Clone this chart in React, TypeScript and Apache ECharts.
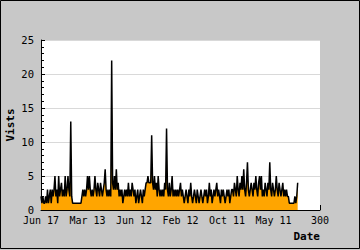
import React, { useEffect, useRef } from "react";
import * as echarts from "echarts";

const xTickLabels = ["Jun 17", "Mar 13", "Jun 12", "Feb 12", "Oct 11", "May 11", "300"];
const yTicks = [0, 5, 10, 15, 20, 25];

const visits = [
  2, 1, 2, 1, 1, 2, 1,
  3, 1, 2, 3, 1, 3, 2, 3, 5, 2, 3, 1,
  5, 2, 3, 4, 2, 3, 2, 5, 2, 3, 5, 3, 2,
  13,
  2, 1, 1, 1, 1, 1, 1, 1, 1, 1, 1, 2,
  3, 2, 3, 2, 3,
  5, 3, 5, 3, 2, 3, 2, 3,
  5, 3, 2, 4, 3, 2, 4, 3, 2, 3, 4,
  6, 3, 2, 3, 2, 3, 2,
  22, 4, 3, 5, 3, 6, 3, 4, 2,
  3, 2, 3, 1, 2, 3, 2, 3, 2,
  4, 2, 3, 2, 4, 3, 2, 3, 1,
  2, 3, 1, 2, 3, 2, 1, 3, 2, 3,
  4, 4, 5, 4, 4, 4,
  11, 4, 3, 5, 3, 4, 2, 5, 3, 2, 3, 2, 3,
  2, 4, 3, 12, 3, 2, 4, 2, 3, 5, 2, 3, 2, 3,
  2, 3, 2, 3, 4, 2, 3, 2, 1, 2, 3, 2, 1, 3, 2,
  4, 2, 1, 2, 3, 2, 1, 3, 2, 1,
  2, 3, 2, 1, 2, 3, 2, 3, 1, 2,
  4, 2, 3, 1, 2, 3, 2, 3, 4, 2,
  3, 2, 1, 3, 2, 3, 2, 1, 2, 3, 2, 3, 1, 2, 3,
  3, 2, 4, 3, 2, 5, 3, 2, 4, 3,
  5, 3, 6, 3, 2, 4, 7, 3, 2, 3,
  4, 3, 2, 4, 3, 5, 3, 2, 4,
  5, 3, 5, 2, 3, 2, 4, 3, 2,
  4, 3, 7, 3, 2, 4, 3, 2, 3,
  5, 3, 2, 4, 3, 2, 3, 4, 2,
  3, 2, 3,
  2, 2, 1, 1, 1, 1, 1, 1, 2,
  1, 2, 4,
];

const FONT = "DejaVu Sans Mono";

export default function App() {
  const ref = useRef<HTMLDivElement>(null);
  useEffect(() => {
    document.body.style.margin = "0";
    if (!ref.current) return;
    const chart = echarts.init(ref.current, null, { renderer: "svg" });
    chart.setOption({
      animation: false,
      backgroundColor: "#c8c8c8",
      graphic: [
        {
          type: "rect",
          shape: { x: 0.5, y: 0.5, width: 359, height: 248 },
          style: { fill: "none", stroke: "#000", lineWidth: 1 },
          silent: true,
          z: 100,
        },
      ],
      grid: {
        left: 41,
        top: 40,
        right: 40,
        bottom: 40,
        containLabel: false,
        outerBoundsMode: "none",
        show: true,
        backgroundColor: "#ffffff",
        borderWidth: 0,
      },
      xAxis: {
        type: "value",
        min: 0,
        max: 300,
        interval: 50,
        name: "Date",
        nameLocation: "end",
        nameGap: 0,
        nameMoveOverlap: false,
        nameTextStyle: {
          fontFamily: FONT,
          fontWeight: "bold",
          fontSize: 11,
          color: "#000",
          align: "right",
          verticalAlign: "top",
          padding: [21, 0, 0, 0],
        },
        axisLine: { show: true, onZero: false, lineStyle: { color: "#000", width: 1 } },
        axisTick: { show: true, inside: true, length: 5, lineStyle: { color: "#000" } },
        splitLine: { show: false },
        axisLabel: {
          fontFamily: FONT,
          fontSize: 10,
          color: "#000",
          margin: 5,
          formatter: (v: number) => xTickLabels[Math.round(v / 50)] ?? "",
        },
      },
      yAxis: {
        type: "value",
        min: yTicks[0],
        max: yTicks[yTicks.length - 1],
        interval: 5,
        name: "Vists",
        nameLocation: "middle",
        nameGap: 31,
        nameMoveOverlap: false,
        nameTextStyle: {
          fontFamily: FONT,
          fontWeight: "bold",
          fontSize: 11,
          color: "#000",
          verticalAlign: "middle",
        },
        axisLine: { show: true, lineStyle: { color: "#000", width: 1 } },
        axisTick: { show: true, inside: true, length: 4, lineStyle: { color: "#000" } },
        minorTick: { show: true, splitNumber: 5, length: 3, lineStyle: { color: "#000" } },
        splitLine: { show: true, lineStyle: { color: "#d9d9d9", width: 1 } },
        axisLabel: {
          fontFamily: FONT,
          fontSize: 10.5,
          color: "#000",
          margin: 7,
        },
      },
      series: [
        {
          type: "line",
          data: visits.map((v, i) => [i, v]),
          showSymbol: false,
          symbol: "none",
          lineStyle: { color: "#000", width: 1.5, join: "bevel" },
          areaStyle: { color: "#ffa500", opacity: 1 },
          itemStyle: { color: "#000" },
        },
      ],
    });
    return () => chart.dispose();
  }, []);
  return <div ref={ref} style={{ width: 360, height: 250 }} />;
}
